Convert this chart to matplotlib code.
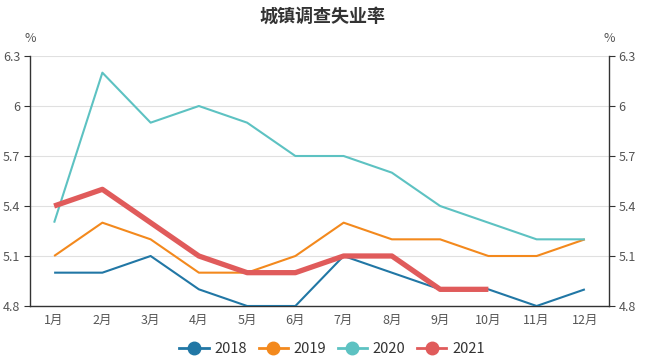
import numpy as np
import matplotlib
matplotlib.use('Agg')
import matplotlib.pyplot as plt
from matplotlib.lines import Line2D

plt.rcParams['font.family'] = ['Noto Sans CJK SC', 'DejaVu Sans']

# data
months = ['1月', '2月', '3月', '4月', '5月', '6月', '7月', '8月', '9月', '10月', '11月', '12月']
y2018 = [5.0, 5.0, 5.1, 4.9, 4.8, 4.8, 5.1, 5.0, 4.9, 4.9, 4.8, 4.9]
y2019 = [5.1, 5.3, 5.2, 5.0, 5.0, 5.1, 5.3, 5.2, 5.2, 5.1, 5.1, 5.2]
y2020 = [5.3, 6.2, 5.9, 6.0, 5.9, 5.7, 5.7, 5.6, 5.4, 5.3, 5.2, 5.2]
y2021 = [5.4, 5.5, 5.3, 5.1, 5.0, 5.0, 5.1, 5.1, 4.9, 4.9]
yticks = [4.8, 5.1, 5.4, 5.7, 6.0, 6.3]
ytick_labels = ['4.8', '5.1', '5.4', '5.7', '6', '6.3']

series = [
    ('2018', y2018, '#2177a5', 1.5),
    ('2019', y2019, '#f3891d', 1.5),
    ('2020', y2020, '#5dc2c2', 1.5),
    ('2021', y2021, '#e05b5b', 3.8),
]

fig = plt.figure(figsize=(6.45, 3.6), dpi=100)
ax = fig.add_axes([30 / 645, 1 - 306 / 360, (609 - 30) / 645, (306 - 56) / 360])

x = np.arange(len(months))
for name, vals, col, lw in series:
    ax.plot(x[:len(vals)], vals, color=col, lw=lw, solid_joinstyle='round',
            solid_capstyle='butt', zorder=3)

ax.set_xlim(-0.5, len(months) - 0.5)
ax.set_ylim(4.8, 6.3)
ax.set_yticks(yticks)
ax.set_yticklabels(ytick_labels)
ax.set_xticks(x)
ax.set_xticklabels(months)
ax.grid(axis='y', color='#e0e0e0', lw=0.8)
ax.set_axisbelow(True)

ax.spines['top'].set_visible(False)
for s in ['left', 'right', 'bottom']:
    ax.spines[s].set_color('#333333')
    ax.spines[s].set_linewidth(1.0)

ax.tick_params(axis='x', length=0, pad=6, labelsize=9, labelcolor='#555555')
ax.tick_params(axis='y', length=4, color='#333333', labelsize=9,
               labelcolor='#555555', right=True, labelright=True, pad=3)

# unit labels on both sides
ax.text(0, 1.045, '%', transform=ax.transAxes, ha='center', va='bottom',
        fontsize=9, color='#555555')
ax.text(1, 1.045, '%', transform=ax.transAxes, ha='center', va='bottom',
        fontsize=9, color='#555555')

fig.text(0.5, 1 - 16 / 360, '城镇调查失业率', ha='center', va='center',
         fontsize=13, fontweight='bold', color='#333333')

handles = [Line2D([0], [0], color=col, lw=2, marker='o', markersize=9)
           for name, vals, col, lw in series]
fig.legend(handles, [s[0] for s in series], loc='center', bbox_to_anchor=(0.515, 1 - 349 / 360),
           ncol=4, frameon=False, fontsize=10.5, handlelength=2.0, columnspacing=0.8,
           handletextpad=0.4, labelcolor='#333333')

fig.savefig('out.png', dpi=100)
